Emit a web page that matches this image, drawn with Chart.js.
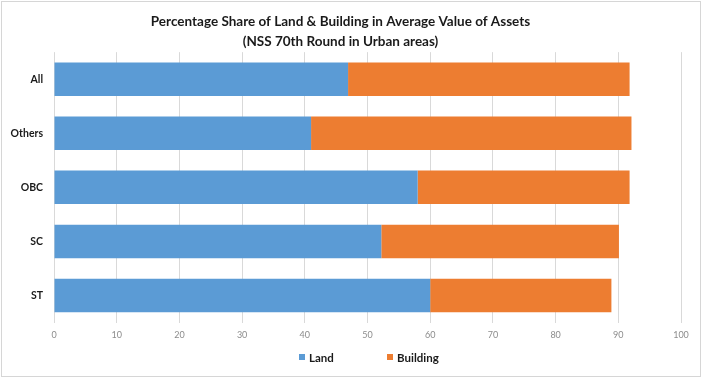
<!DOCTYPE html>
<html lang="en">
<head>
    <meta charset="UTF-8">
    <title>Land & Building share</title>
    <script src="https://cdn.jsdelivr.net/npm/chart.js"></script>
    <style>
        body {
            margin: 0;
            padding: 0;
            background-color: #ffffff;
        }
        .wrap {
            position: relative;
            width: 702px;
            height: 378px;
        }
        .frame {
            position: absolute;
            left: 1px;
            top: 1px;
            width: 698px;
            height: 374px;
            border: 1px solid #d6d6d6;
            pointer-events: none;
        }
        .legend-item {
            position: absolute;
            top: 349px;
            height: 16px;
            display: flex;
            align-items: center;
            font-family: Lato, sans-serif;
            font-size: 11.5px;
            font-weight: bold;
            color: #1a1a1a;
        }
        .legend-item span {
            display: inline-block;
            width: 6px;
            height: 6px;
            margin-right: 4px;
        }
    </style>
</head>
<body>
    <div class="wrap">
        <canvas id="assetChart" width="702" height="378"></canvas>
        <div id="legend"></div>
        <div class="frame"></div>
    </div>
    <script>
        const categories = ['All', 'Others', 'OBC', 'SC', 'ST'];
        const landShare = [46.9, 41.0, 58.0, 52.2, 60.0];
        const buildingShare = [44.9, 51.1, 33.8, 37.9, 28.9];
        const xMin = 0;
        const xMax = 100;
        const xStep = 10;

        const seriesNames = ['Land', 'Building'];
        const seriesColors = ['#5b9bd5', '#ed7d31'];

        const fontName = 'Lato, sans-serif';

        const chart = new Chart(document.getElementById('assetChart'), {
            type: 'bar',
            data: {
                labels: categories,
                datasets: [{
                    label: seriesNames[0],
                    data: landShare,
                    backgroundColor: seriesColors[0],
                    categoryPercentage: 1,
                    barPercentage: 0.62
                }, {
                    label: seriesNames[1],
                    data: buildingShare,
                    backgroundColor: seriesColors[1],
                    categoryPercentage: 1,
                    barPercentage: 0.62
                }]
            },
            options: {
                indexAxis: 'y',
                responsive: false,
                animation: false,
                layout: {
                    padding: { left: 0, right: 21, top: 0, bottom: 33.5 }
                },
                plugins: {
                    title: {
                        display: true,
                        text: ['Percentage Share of Land & Building in Average Value of Assets',
                               '(NSS 70th Round in Urban areas)'],
                        color: '#1a1a1a',
                        font: { family: fontName, size: 13.5, weight: 'bold', lineHeight: 1.45 },
                        padding: { top: 12, bottom: 1 }
                    },
                    legend: { display: false },
                    tooltip: { enabled: false }
                },
                scales: {
                    x: {
                        stacked: true,
                        min: xMin,
                        max: xMax,
                        ticks: {
                            stepSize: xStep,
                            color: '#8c8c8c',
                            font: { family: fontName, size: 9 },
                            padding: 7
                        },
                        grid: {
                            color: '#d9d9d9',
                            drawTicks: false
                        },
                        border: { display: false },
                        afterFit: function (scale) {
                            scale.height = 22;
                        }
                    },
                    y: {
                        stacked: true,
                        ticks: {
                            color: '#1a1a1a',
                            font: { family: fontName, size: 10.5, weight: 'bold' },
                            padding: 11
                        },
                        grid: { display: false, drawTicks: false },
                        border: { display: false },
                        afterFit: function (scale) {
                            scale.width = 54;
                        }
                    }
                }
            }
        });

        // legend as html, placed like the original
        const legendLeft = [299, 387];
        const legend = document.getElementById('legend');
        chart.data.datasets.forEach(function (ds, i) {
            const item = document.createElement('div');
            item.className = 'legend-item';
            item.style.left = legendLeft[i] + 'px';
            const box = document.createElement('span');
            box.style.backgroundColor = ds.backgroundColor;
            item.appendChild(box);
            item.appendChild(document.createTextNode(ds.label));
            legend.appendChild(item);
        });
    </script>
</body>
</html>
